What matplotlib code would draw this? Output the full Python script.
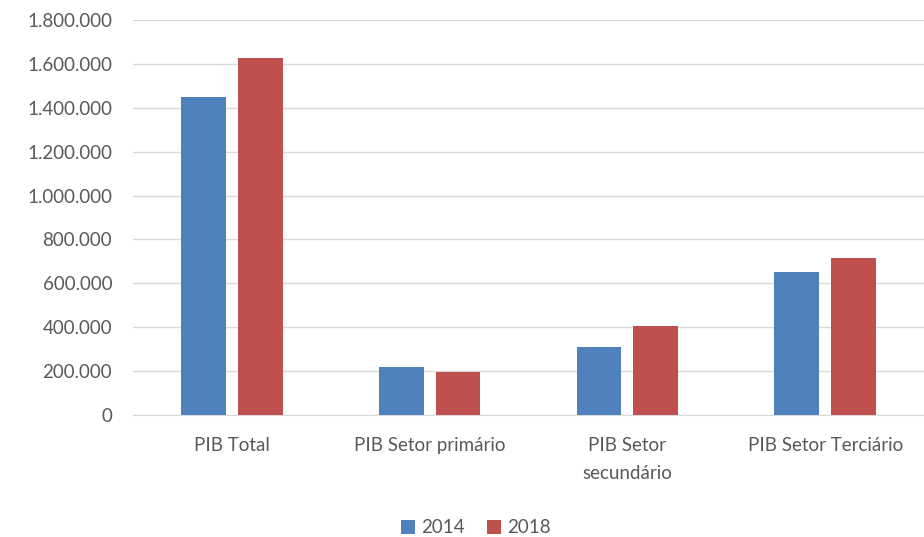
import numpy as np
import matplotlib.pyplot as plt
from matplotlib.ticker import FuncFormatter

categorias = ["PIB Total", "PIB Setor primário", "PIB Setor\nsecundário", "PIB Setor Terciário"]
anos = ["2014", "2018"]
valores_2014 = [1449000, 217000, 308000, 653000]
valores_2018 = [1626000, 197000, 407000, 714000]

plt.rcParams['font.family'] = ['Lato', 'DejaVu Sans']
cor_texto = "#595959"

fig = plt.figure(figsize=(9.24, 5.37), dpi=100)
ax = fig.add_axes([133/924, 1 - 415/537, (924 - 133)/924, (415 - 20)/537])

x = np.arange(len(categorias))
larg = 0.227
sep = 0.03
ax.bar(x - larg/2 - sep, valores_2014, larg, color="#4F81BD", label=anos[0], zorder=3)
ax.bar(x + larg/2 + sep, valores_2018, larg, color="#C0504D", label=anos[1], zorder=3)

ax.set_xlim(-0.5, len(categorias) - 0.5)
ax.set_ylim(0, 1800000)
ax.set_yticks(np.arange(0, 1800001, 200000))
ax.yaxis.set_major_formatter(FuncFormatter(lambda v, p: f"{int(v):,}".replace(",", ".")))
ax.set_xticks(x)
ax.set_xticklabels(categorias, va="top", linespacing=1.75)

ax.grid(axis="y", color="#D9D9D9", linewidth=1, zorder=0)
for s in ["top", "right", "left"]:
    ax.spines[s].set_visible(False)
ax.spines["bottom"].set_color("#D9D9D9")
ax.tick_params(axis="both", length=0, colors=cor_texto, labelsize=13.5)
ax.tick_params(axis="x", pad=16)
ax.tick_params(axis="y", pad=15)

leg = fig.legend(loc="lower center", bbox_to_anchor=(0.515, -0.03), ncol=2, frameon=False,
                 fontsize=13.5, handlelength=0.75, handleheight=0.75, columnspacing=1.2,
                 handletextpad=0.3)
for t in leg.get_texts():
    t.set_color(cor_texto)

fig.savefig("out.png", dpi=100)
